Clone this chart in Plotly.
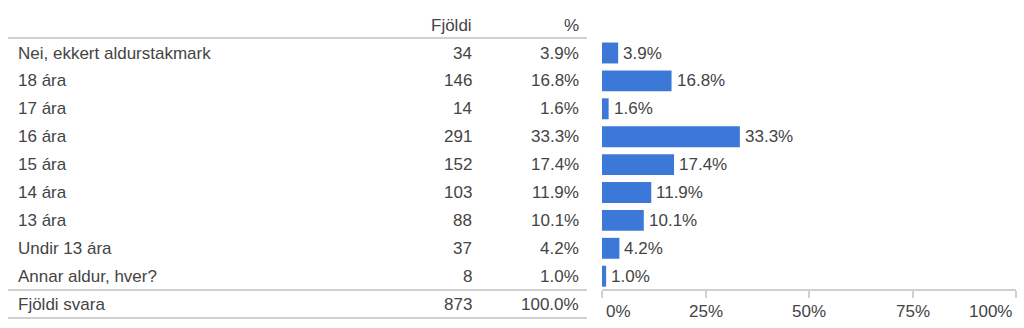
import plotly.graph_objects as go

categories = ["Nei, ekkert aldurstakmark", "18 ára", "17 ára", "16 ára", "15 ára",
              "14 ára", "13 ára", "Undir 13 ára", "Annar aldur, hver?"]
counts = [34, 146, 14, 291, 152, 103, 88, 37, 8]
percents = [3.9, 16.8, 1.6, 33.3, 17.4, 11.9, 10.1, 4.2, 1.0]
total_label = "Fjöldi svara"
total_count = 873
total_percent = 100.0
header_count = "Fjöldi"
header_percent = "%"
tick_values = [0, 25, 50, 75, 100]
tick_labels = ["0%", "25%", "50%", "75%", "100%"]

W, H = 1024, 328
TEXT = "#444444"
LINE = "#d0d0d0"
BAR = "#3c78d8"
FONT = "Liberation Sans, Arial, sans-serif"
FS = 17

row_y = list(range(len(categories)))
total_y = len(categories)
header_y = -1

def ypx_to_val(p):
    return (p - 53) / 27.9

fig = go.Figure()
fig.add_trace(go.Bar(
    x=percents, y=row_y, orientation="h", width=0.75,
    marker=dict(color=BAR, line=dict(width=0)),
    hoverinfo="skip",
))

ann = []
def px(x):
    return x / W

col_label_x = px(16)
col_count_x = px(474)
col_pct_x = px(581)

ann.append(dict(x=col_count_x, y=header_y, xref="paper", yref="y", text=header_count,
                xanchor="right", yanchor="middle", showarrow=False))
ann.append(dict(x=col_pct_x, y=header_y, xref="paper", yref="y", text=header_percent,
                xanchor="right", yanchor="middle", showarrow=False))
for i, (c, n, p) in enumerate(zip(categories, counts, percents)):
    ann.append(dict(x=col_label_x, y=i, xref="paper", yref="y", text=c,
                    xanchor="left", yanchor="middle", showarrow=False))
    ann.append(dict(x=col_count_x, y=i, xref="paper", yref="y", text=str(n),
                    xanchor="right", yanchor="middle", showarrow=False))
    ann.append(dict(x=col_pct_x, y=i, xref="paper", yref="y", text=f"{p:.1f}%",
                    xanchor="right", yanchor="middle", showarrow=False))
    # bar value label
    ann.append(dict(x=p, y=i, xref="x", yref="y", text=f"{p:.1f}%", xshift=3,
                    xanchor="left", yanchor="middle", showarrow=False))
ann.append(dict(x=col_label_x, y=total_y, xref="paper", yref="y", text=total_label,
                xanchor="left", yanchor="middle", showarrow=False))
ann.append(dict(x=col_count_x, y=total_y, xref="paper", yref="y", text=str(total_count),
                xanchor="right", yanchor="middle", showarrow=False))
ann.append(dict(x=col_pct_x, y=total_y, xref="paper", yref="y", text=f"{total_percent:.1f}%",
                xanchor="right", yanchor="middle", showarrow=False))

tick_y = 1 - 311 / H
for v, t in zip(tick_values, tick_labels):
    if v == tick_values[0]:
        anchor, shift = "left", 2
    elif v == tick_values[-1]:
        anchor, shift = "right", -2
    else:
        anchor, shift = "center", 0
    ann.append(dict(x=v, y=tick_y, xref="x", yref="paper", text=t, xanchor=anchor,
                    xshift=shift, yanchor="middle", showarrow=False))

for a in ann:
    a["font"] = dict(family=FONT, size=FS, color=TEXT)

shapes = []
for ypix in (38, 290, 318):
    yv = 1 - ypix / H
    shapes.append(dict(type="line", xref="paper", yref="paper", x0=px(8), x1=px(587),
                       y0=yv, y1=yv, line=dict(color=LINE, width=2)))

fig.update_layout(
    width=W, height=H,
    margin=dict(l=0, r=0, t=0, b=0),
    paper_bgcolor="white", plot_bgcolor="white",
    showlegend=False,
    annotations=ann, shapes=shapes,
    font=dict(family=FONT, size=FS, color=TEXT),
    xaxis=dict(domain=[602 / W, 1016 / W], range=[0, 100], showgrid=False, zeroline=False,
               showline=True, linecolor=LINE, linewidth=2, ticks="outside", ticklen=7,
               tickcolor=LINE, tickwidth=2, tickvals=tick_values, showticklabels=False,
               anchor="free", position=1 - 290 / H, fixedrange=True),
    yaxis=dict(domain=[0, 1], range=[ypx_to_val(H), ypx_to_val(0)], showgrid=False,
               zeroline=False, showline=False, showticklabels=False, ticks="",
               fixedrange=True),
    bargap=0.25,
)

fig.write_html("out.html", config={"displayModeBar": False})
